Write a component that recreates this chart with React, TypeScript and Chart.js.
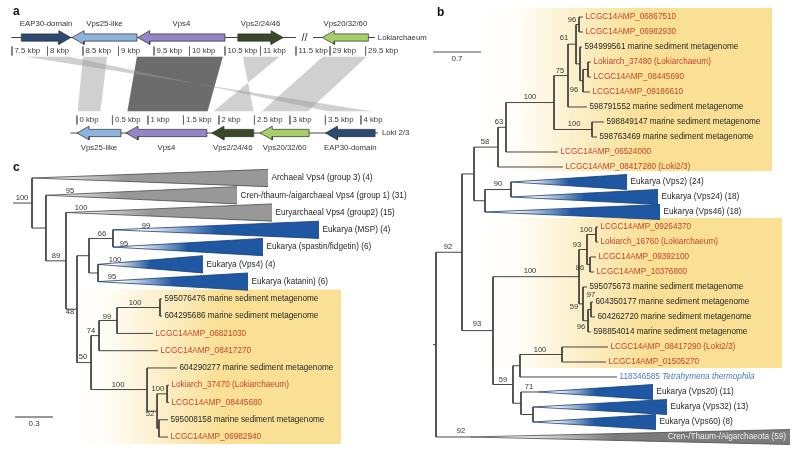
import React, { useEffect, useRef } from "react";
import { Chart, registerables } from "chart.js";

Chart.register(...registerables);

/* ======================= panel a : gene neighbourhoods ======================= */
const GENE_NAMES = ["EAP30-domain", "Vps25-like", "Vps4", "Vps2/24/46", "Vps20/32/60"];
const GENE_COLORS = ["#2d4b71", "#8eb4de", "#9585c5", "#3a4925", "#a6cf6b"];
// Lokiarchaeum contig (kbp); tail -> tip gives the strand
const LOKI_NAME = "Lokiarchaeum";
const LOKI_TAIL = [7.63, 9.26, 10.5, 10.68, 29.54];
const LOKI_TIP = [8.33, 8.345, 9.27, 11.32, 28.89];
const LOKI_SPANS = [[7.49, 11.5], [28.76, 29.63]];
const LOKI_TICKS = [7.5, 8, 8.5, 9, 9.5, 10, 10.5, 11, 11.5, 29, 29.5];
// Loki2/3 contig (kbp)
const L23_NAME = "Loki 2/3";
const L23_GENE = [1, 2, 3, 4, 0];
const L23_TAIL = [0.62, 1.83, 2.49, 3.27, 4.2];
const L23_TIP = [0.0, 0.69, 1.9, 2.58, 3.5];
const L23_SPAN = [-0.09, 4.24];
const L23_TICKS = [0, 0.5, 1, 1.5, 2, 2.5, 3, 3.5, 4];
// homologous regions linking the two contigs
const BAND_LOKI_FROM = [7.67, 8.5, 9.26, 10.75, 28.9];
const BAND_LOKI_TO = [8.29, 8.84, 10.47, 11.27, 29.52];
const BAND_L23_FROM = [3.55, 0.01, 0.71, 1.92, 2.6];
const BAND_L23_TO = [4.17, 0.33, 1.84, 2.49, 3.25];
const BAND_INVERTED = [true, false, false, true, false];
const BAND_STRONG = [false, false, true, false, false];
// axis break on the Lokiarchaeum contig and alignment of the Loki2/3 contig
const LOKI_BREAK_AFTER = 20;
const LOKI_BREAK_GAP = 17.02;
const LOKI_BREAK_AT = 11.62;
const L23_ALIGN = 8.415;

/* ======================= panel b : ESCRT-III tree ======================= */
// [node, parent, depth]
const B_NODES = [
  ["root", null, 0], ["n92", "root", 0.379], ["A", "n92", 0.554], ["B", "A", 0.904],
  ["C", "B", 1.02], ["D", "C", 1.72], ["E", "D", 1.924], ["G", "E", 2.041],
  ["H", "G", 2.085], ["G2", "G", 2.099], ["I", "G2", 2.143], ["J", "I", 2.216],
  ["F", "D", 2.274], ["N1", "A", 0.714], ["N2", "N1", 1.093], ["n93", "n92", 0.831],
  ["P100", "n93", 2.085], ["n93b", "P100", 2.201], ["n100b", "n93b", 2.332], ["n86", "n93b", 2.245],
  ["n59b", "P100", 2.143], ["n96", "n59b", 2.216], ["n97", "n96", 2.259], ["n59", "n93", 1.122],
  ["n520", "n59", 1.224], ["n100c", "n520", 1.837], ["n71", "n59", 1.239], ["n3260", "n71", 1.414],
];
// [label, parent, branch end (or clade apex), kind, clade base]
const B_LEAVES = [
  ["LCGC14AMP_06867510", "H", 2.143, "r"],
  ["LCGC14AMP_06982930", "H", 2.143, "r"],
  ["594999561 marine sediment metagenome", "G2", 2.128, "k"],
  ["Lokiarch_37480 (Lokiarchaeum)", "J", 2.259, "r"],
  ["LCGC14AMP_08445690", "J", 2.259, "r"],
  ["LCGC14AMP_09186610", "I", 2.245, "r"],
  ["598791552 marine sediment metagenome", "E", 2.201, "k"],
  ["598849147 marine sediment metagenome", "F", 2.449, "k"],
  ["598763469 marine sediment metagenome", "F", 2.347, "k"],
  ["LCGC14AMP_06524000", "C", 1.778, "r"],
  ["LCGC14AMP_08417280 (Loki2/3)", "B", 1.851, "r"],
  ["Eukarya (Vps2) (24)", "N2", 1.093, "T", 2.784],
  ["Eukarya (Vps24) (18)", "N2", 1.093, "T", 3.236],
  ["Eukarya (Vps46) (18)", "N1", 0.714, "T", 3.265],
  ["LCGC14AMP_09264370", "n100b", 2.362, "r"],
  ["Lokiarch_16760 (Lokiarchaeum)", "n100b", 2.362, "r"],
  ["LCGC14AMP_09392100", "n86", 2.332, "r"],
  ["LCGC14AMP_10376800", "n86", 2.303, "r"],
  ["595075673 marine sediment metagenome", "n59b", 2.201, "k"],
  ["604350177 marine sediment metagenome", "n97", 2.289, "k"],
  ["604262720 marine sediment metagenome", "n97", 2.318, "k"],
  ["598854014 marine sediment metagenome", "n96", 2.259, "k"],
  ["LCGC14AMP_08417290 (Loki2/3)", "n100c", 2.507, "r"],
  ["LCGC14AMP_01505270", "n100c", 2.478, "r"],
  ["118346585 Tetrahymena thermophila", "n520", 2.638, "i"],
  ["Eukarya (Vps20) (11)", "n71", 1.487, "T", 3.163],
  ["Eukarya (Vps32) (13)", "n3260", 1.414, "T", 3.367],
  ["Eukarya (Vps60) (8)", "n3260", 1.414, "T", 3.207],
  ["Cren-/Thaum-/Aigarchaeota (59)", "root", 0.496, "g", 5.16],
];
// [support, depth, row]
const B_SUPPORT = [
  ["96", 1.983, 0.2], ["61", 1.866, 1.4], ["75", 1.808, 3.6], ["96", 2.012, 4.87],
  ["100", 1.37, 5.33], ["100", 2.012, 7.13], ["63", 0.918, 7.0], ["58", 0.714, 8.33],
  ["90", 0.904, 11.13], ["92", 0.175, 15.33], ["100", 2.187, 14.2], ["93", 2.055, 15.2],
  ["86", 2.099, 16.73], ["100", 1.37, 16.93], ["97", 2.259, 18.53], ["59", 2.012, 19.33],
  ["96", 2.114, 20.67], ["93", 0.598, 20.47], ["100", 1.516, 22.2], ["59", 0.977, 24.2],
  ["71", 1.356, 24.67], ["92", 0.364, 27.6],
];
const B_BOXES = [[0.685, 4.898, -0.6, 10.27], [0.685, 5.044, 13.4, 23.4]];
const B_ROOT_STUB = -0.044;
const B_SCALE = 0.7;
const B_SCALE_AT = [-0.044, 2.33];

/* ======================= panel c : Vps4 tree ======================= */
const C_NODES = [
  ["root", null, 0], ["K", "root", 0.11], ["L", "K", 0.268], ["M", "L", 0.355],
  ["N", "M", 0.45], ["O", "N", 0.639], ["P", "N", 0.521], ["Q", "M", 0.466],
  ["R", "Q", 0.529], ["T", "R", 0.671], ["U", "T", 1.01], ["S", "Q", 0.908],
  ["V", "S", 0.987], ["W", "V", 1.066], ["X", "V", 1.002],
];
const C_LEAVES = [
  ["Archaeal Vps4 (group 3) (4)", "root", 0, "G", 1.863],
  ["Cren-/thaum-/aigarchaeal Vps4 (group 1) (31)", "K", 0.11, "G", 1.618],
  ["Euryarchaeal Vps4 (group2) (15)", "L", 0.268, "G", 1.894],
  ["Eukarya (MSP) (4)", "O", 0.639, "T", 2.265],
  ["Eukarya (spastin/fidgetin) (6)", "O", 0.639, "T", 1.823],
  ["Eukarya (Vps4) (4)", "P", 0.521, "T", 1.35],
  ["Eukarya (katanin) (6)", "P", 0.521, "T", 1.705],
  ["595076476 marine sediment metagenome", "U", 1.026, "k"],
  ["604295686 marine sediment metagenome", "U", 1.026, "k"],
  ["LCGC14AMP_06821030", "T", 0.955, "r"],
  ["LCGC14AMP_08417270", "R", 0.994, "r"],
  ["604290277 marine sediment metagenome", "S", 1.144, "k"],
  ["Lokiarch_37470 (Lokiarchaeum)", "W", 1.081, "r"],
  ["LCGC14AMP_08445680", "W", 1.081, "r"],
  ["595008158 marine sediment metagenome", "X", 1.073, "k"],
  ["LCGC14AMP_06982940", "X", 1.073, "r"],
];
const C_SUPPORT = [
  ["100", -0.079, 1.16], ["95", 0.3, 0.75], ["89", 0.189, 4.52], ["100", 0.387, 1.74],
  ["66", 0.552, 3.24], ["99", 0.9, 2.78], ["95", 0.726, 3.82], ["100", 0.655, 4.75],
  ["95", 0.631, 5.73], ["48", 0.3, 7.76], ["50", 0.403, 10.36], ["74", 0.466, 8.86],
  ["99", 0.592, 8.05], ["100", 0.813, 7.24], ["100", 0.679, 11.99], ["100", 0.994, 12.22],
  ["52", 0.931, 13.67],
];
const C_BOXES = [[0.339, 2.439, 6.45, 15.4]];
const C_ROOT_STUB = -0.15;
const C_SCALE = 0.3;
const C_SCALE_AT = [-0.134, 13.84];

/* ======================= layout & style ======================= */
const WINDOWS: Record<string, number[]> = {
  xa: [7.331, 18.599], ya: [-0.3927, 4.34],
  xb: [-6.356, 5.306], yb: [-1.1333, 29.0],
  xc: [-0.2526, 6.061], yc: [-10.307, 15.866],
};
const PANEL_LETTERS = [["a", "xa", "ya", 7.514, -0.267], ["b", "xb", "yb", 0.015, -0.267], ["c", "xc", "yc", -0.15, -0.579]];
const FAMILY = '"Liberation Sans", Arial, Helvetica, sans-serif';
const font = (s: number, w = "") => `${w ? w + " " : ""}${s}px ${FAMILY}`;
const INK = "#262626";
const RED = "#c6432c";
const BLUE_TXT = "#4a77c6";
const TREE = "#3c3c3c";
const NONE = "rgba(0,0,0,0)";
const YEL = "249,224,149";
const EUK = "#1f57a3";
const ARROW_HEAD_KBP = 0.17;
const ARROW_BODY = 0.038;
const ARROW_HEAD = 0.072;
const TOP_TICK = [0.094, 0.188];
const BOT_TICK = [0.817, 0.911];
const BAND_Y = [0.2, 0.775];
const TRI_H = 0.5;

type P = { x: number | null; y: number | null };
const GAP: P = { x: null, y: null };

function layoutTree(nodes: any[], leaves: any[]) {
  const kids: Record<string, { x: number; key: string | number }[]> = {};
  nodes.forEach(([id]) => (kids[id] = []));
  nodes.forEach(([id, p, d]) => { if (p) kids[p].push({ x: d, key: id }); });
  leaves.forEach((lf, row) => kids[lf[1]].push({ x: lf[2], key: row }));
  const memo: Record<string, number> = {};
  const yOf = (k: string | number): number => {
    if (typeof k === "number") return k;
    if (memo[k] !== undefined) return memo[k];
    const ys = kids[k].map((c) => yOf(c.key));
    return (memo[k] = (Math.min(...ys) + Math.max(...ys)) / 2);
  };
  const pts: P[] = [];
  nodes.forEach(([id, , d]) => {
    const cs = kids[id].map((c) => ({ x: c.x, y: yOf(c.key) })).sort((a, b) => a.y - b.y);
    const f = cs[0], l = cs[cs.length - 1];
    pts.push({ x: f.x, y: f.y }, { x: d, y: f.y }, { x: d, y: l.y }, { x: l.x, y: l.y }, GAP);
    cs.slice(1, -1).forEach((c) => pts.push({ x: d, y: c.y }, { x: c.x, y: c.y }, GAP));
  });
  return { pts, yOf };
}

const textPlugin = (items: any[]) => ({
  id: "figureText",
  afterDatasetsDraw(chart: any) {
    const ctx = chart.ctx;
    items.forEach((t) => {
      const px = chart.scales[t.sx].getPixelForValue(t.x) + (t.dx || 0);
      const py = chart.scales[t.sy].getPixelForValue(t.y) + (t.dy || 0);
      ctx.save();
      ctx.fillStyle = t.color || INK;
      ctx.textBaseline = "middle";
      ctx.textAlign = t.align || "left";
      if (t.italicTail) {
        const i = t.text.indexOf(" ");
        const a = t.text.slice(0, i + 1), b = t.text.slice(i + 1);
        ctx.font = t.font;
        ctx.fillText(a, px, py);
        const w = ctx.measureText(a).width;
        ctx.font = "italic " + t.font;
        ctx.fillText(b, px + w, py);
      } else {
        ctx.font = t.font;
        ctx.fillText(t.text, px, py);
      }
      ctx.restore();
    });
  },
});

export default function App() {
  const ref = useRef<HTMLCanvasElement | null>(null);

  useEffect(() => {
    const canvas = ref.current;
    if (!canvas) return;
    const datasets: any[] = [];
    const texts: any[] = [];

    const addLine = (data: P[], sx: string, sy: string, color: string, width: number, order: number, extra: any = {}) => {
      datasets.push({
        type: "line", data, xAxisID: sx, yAxisID: sy, borderColor: color, borderWidth: width,
        pointRadius: 0, pointHoverRadius: 0, pointHitRadius: 0, tension: 0, fill: false,
        order, clip: false, ...extra,
      });
    };
    const grad = (sx: string, x0: number, x1: number, stops: [number, string][]) => (c: any) => {
      const chart = c.chart;
      const s = chart.scales[sx];
      if (!s || !chart.chartArea) return stops[stops.length - 1][1];
      const g = chart.ctx.createLinearGradient(s.getPixelForValue(x0), 0, s.getPixelForValue(x1), 0);
      stops.forEach(([o, col]) => g.addColorStop(o, col));
      return g;
    };

    /* ---------- panel a ---------- */
    const lokiX = (k: number) => (k > LOKI_BREAK_AFTER ? k - LOKI_BREAK_GAP : k);
    const l23X = (k: number) => k + L23_ALIGN;

    BAND_LOKI_FROM.forEach((_, i) => {
      const t0 = lokiX(BAND_LOKI_FROM[i]), t1 = lokiX(BAND_LOKI_TO[i]);
      const b0 = l23X(BAND_L23_FROM[i]), b1 = l23X(BAND_L23_TO[i]);
      const inv = BAND_INVERTED[i];
      addLine([{ x: t0, y: BAND_Y[0] }, { x: inv ? b1 : b0, y: BAND_Y[1] }], "xa", "ya", NONE, 1, 30, { indexAxis: "y" });
      addLine([{ x: t1, y: BAND_Y[0] }, { x: inv ? b0 : b1, y: BAND_Y[1] }], "xa", "ya", NONE, 1, 30, {
        indexAxis: "y", fill: "-1",
        backgroundColor: BAND_STRONG[i] ? "rgba(100,100,100,0.95)" : "rgba(150,150,150,0.45)",
      });
    });

    const track: P[] = [];
    LOKI_SPANS.forEach(([a, b]) => track.push({ x: lokiX(a), y: 0 }, { x: lokiX(b), y: 0 }, GAP));
    track.push({ x: l23X(L23_SPAN[0]), y: 1 }, { x: l23X(L23_SPAN[1]), y: 1 });
    addLine(track, "xa", "ya", "#444", 1, 20);

    const ticks: P[] = [];
    LOKI_TICKS.forEach((t) => {
      ticks.push({ x: lokiX(t), y: TOP_TICK[0] }, { x: lokiX(t), y: TOP_TICK[1] }, GAP);
      texts.push({ sx: "xa", sy: "ya", x: lokiX(t), y: (TOP_TICK[0] + TOP_TICK[1]) / 2, text: `${t} kbp`, dx: 2.5, font: font(7.8), color: "#3a3a3a" });
    });
    L23_TICKS.forEach((t) => {
      ticks.push({ x: l23X(t), y: BOT_TICK[0] }, { x: l23X(t), y: BOT_TICK[1] }, GAP);
      texts.push({ sx: "xa", sy: "ya", x: l23X(t), y: (BOT_TICK[0] + BOT_TICK[1]) / 2, text: `${t} kbp`, dx: 2.5, font: font(7.8), color: "#3a3a3a" });
    });
    addLine(ticks, "xa", "ya", "#666", 0.8, 20);

    const arrow = (tail: number, tip: number, yc: number, color: string) => {
      const dir = tip > tail ? 1 : -1;
      const neck = tip - dir * ARROW_HEAD_KBP;
      const up: P[] = [{ x: tail, y: yc + ARROW_BODY }, { x: tail, y: yc - ARROW_BODY }, { x: neck, y: yc - ARROW_BODY }, { x: neck, y: yc - ARROW_HEAD }, { x: tip, y: yc }];
      const lo: P[] = [{ x: tail, y: yc + ARROW_BODY }, { x: neck, y: yc + ARROW_BODY }, { x: neck, y: yc + ARROW_HEAD }, { x: tip, y: yc }];
      addLine(up, "xa", "ya", "#2a2a2a", 0.7, 5);
      addLine(lo, "xa", "ya", "#2a2a2a", 0.7, 5, { fill: "-1", backgroundColor: color });
    };
    GENE_NAMES.forEach((name, g) => {
      const a = lokiX(LOKI_TAIL[g]), b = lokiX(LOKI_TIP[g]);
      arrow(a, b, 0, GENE_COLORS[g]);
      texts.push({ sx: "xa", sy: "ya", x: (a + b) / 2, y: 0, dy: -13.5, text: name, align: "center", font: font(7.8), color: "#333" });
    });
    L23_GENE.forEach((g, i) => {
      const a = l23X(L23_TAIL[i]), b = l23X(L23_TIP[i]);
      arrow(a, b, 1, GENE_COLORS[g]);
      texts.push({ sx: "xa", sy: "ya", x: (a + b) / 2, y: 1, dy: 15, text: GENE_NAMES[g], align: "center", font: font(7.8), color: "#333" });
    });
    texts.push({ sx: "xa", sy: "ya", x: lokiX(LOKI_SPANS[1][1]), y: 0, dx: 3, text: LOKI_NAME, font: font(7.8), color: "#333" });
    texts.push({ sx: "xa", sy: "ya", x: l23X(L23_SPAN[1]), y: 1, dx: 4, text: L23_NAME, font: font(7.8), color: "#333" });
    texts.push({ sx: "xa", sy: "ya", x: LOKI_BREAK_AT, y: 0, text: "//", align: "center", font: font(11), color: "#333" });

    /* ---------- trees ---------- */
    const drawTree = (nodes: any[], leaves: any[], support: any[], boxes: number[][], sx: string, sy: string, stub: number, scale: number, scaleAt: number[], scaleColor: string, scaleW: number) => {
      boxes.forEach(([x0, x1, top, bot]) =>
        addLine([{ x: x0, y: top }, { x: x1, y: top }], sx, sy, NONE, 1, 40, {
          fill: { value: bot },
          backgroundColor: grad(sx, x0, x1, [[0, `rgba(${YEL},0)`], [0.12, `rgba(${YEL},0.08)`], [0.55, `rgba(${YEL},1)`], [1, `rgba(${YEL},1)`]]),
        })
      );
      const { pts, yOf } = layoutTree(nodes, leaves);
      const ry = yOf("root");
      pts.push({ x: stub, y: ry }, { x: 0, y: ry });
      addLine(pts, sx, sy, TREE, 0.95, 20);
      leaves.forEach(([name, , d, kind, base], row) => {
        if (base !== undefined) {
          const stops: [number, string][] =
            kind === "T" ? [[0, "#ffffff"], [0.15, "#ffffff"], [0.5, EUK], [1, EUK]]
            : kind === "g" ? [[0, "#ffffff"], [0.12, "#ffffff"], [0.45, "#7b7b7b"], [1, "#7b7b7b"]]
            : [[0, "#ffffff"], [0.06, "#eeeeee"], [0.4, "#989898"], [1, "#989898"]];
          const edge = kind === "T" ? "#1a3c6c" : "#4a4a4a";
          addLine([{ x: d, y: row }, { x: base, y: row - TRI_H }], sx, sy, edge, 0.8, 10);
          addLine([{ x: d, y: row }, { x: base, y: row + TRI_H }], sx, sy, edge, 0.8, 10, { fill: "-1", backgroundColor: grad(sx, d, base, stops) });
          if (kind === "g") texts.push({ sx, sy, x: base, y: row, dx: -4, align: "right", text: name, font: font(8.2), color: "#ededed" });
          else texts.push({ sx, sy, x: base, y: row, dx: 3.5, text: name, font: font(8.2), color: INK });
        } else {
          texts.push({
            sx, sy, x: d, y: row, dx: 2.5, text: name, font: font(8.2),
            color: kind === "r" ? RED : kind === "i" ? BLUE_TXT : INK, italicTail: kind === "i",
          });
        }
      });
      support.forEach(([t, x, y]) => texts.push({ sx, sy, x, y, text: t, align: "center", font: font(7.6), color: "#333" }));
      addLine([{ x: scaleAt[0], y: scaleAt[1] }, { x: scaleAt[0] + scale, y: scaleAt[1] }], sx, sy, scaleColor, scaleW, 20);
      texts.push({ sx, sy, x: scaleAt[0] + scale / 2, y: scaleAt[1], dy: 6.5, text: String(scale), align: "center", font: font(8), color: "#333" });
    };
    drawTree(B_NODES, B_LEAVES, B_SUPPORT, B_BOXES, "xb", "yb", B_ROOT_STUB, B_SCALE, B_SCALE_AT, "#8a8a8a", 1.5);
    drawTree(C_NODES, C_LEAVES, C_SUPPORT, C_BOXES, "xc", "yc", C_ROOT_STUB, C_SCALE, C_SCALE_AT, "#333", 1);

    PANEL_LETTERS.forEach(([t, sx, sy, x, y]) => texts.push({ sx, sy, x, y, text: t, font: font(12, "bold"), color: "#111" }));

    const scales: any = {};
    Object.entries(WINDOWS).forEach(([id, [min, max]]) => {
      scales[id] = {
        type: "linear", axis: id[0], min, max, reverse: id[0] === "y", display: false,
        bounds: "data", grid: { display: false }, ticks: { display: false },
      };
    });

    const chart = new Chart(canvas, {
      type: "line",
      data: { datasets },
      options: {
        responsive: false,
        animation: false,
        events: [],
        layout: { padding: 0 },
        plugins: { legend: { display: false }, tooltip: { enabled: false }, title: { display: false } },
        scales,
      } as any,
      plugins: [textPlugin(texts)],
    });
    return () => chart.destroy();
  }, []);

  return (
    <div style={{ position: "fixed", left: 0, top: 0, width: 800, height: 452, background: "#ffffff" }}>
      <canvas ref={ref} width={800} height={452} style={{ display: "block", width: 800, height: 452 }} />
    </div>
  );
}
